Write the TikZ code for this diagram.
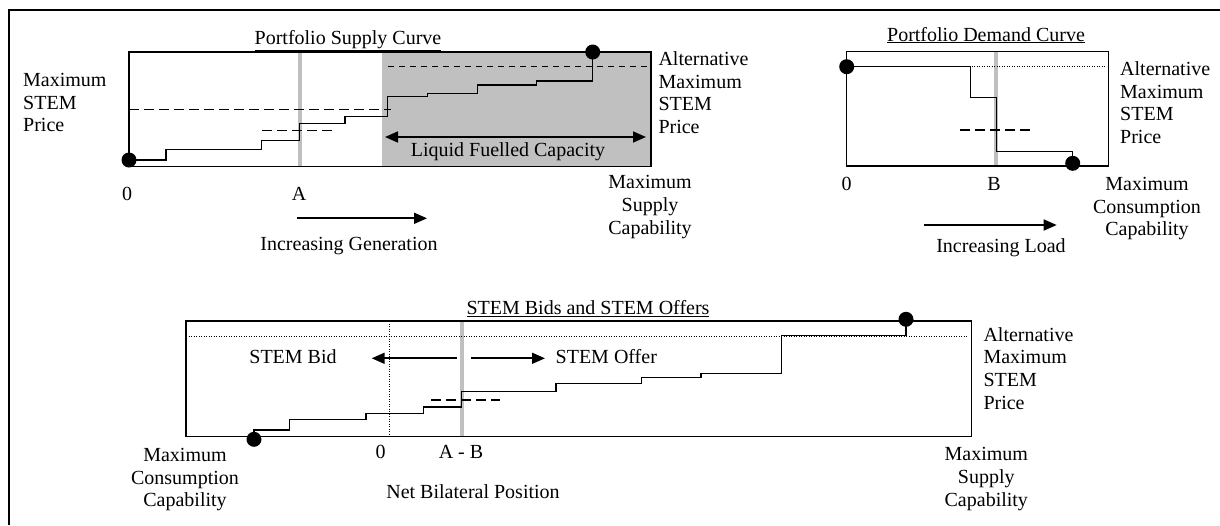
\documentclass[tikz,border=0pt]{standalone}
\usepackage{fontspec}
\setmainfont{Liberation Serif}
\usetikzlibrary{arrows.meta}
\definecolor{gshade}{RGB}{192,192,192}
\begin{document}
\begin{tikzpicture}[x=1pt,y=-1pt,
  lbl/.style={inner sep=0pt,font=\fontsize{20}{22.8}\selectfont},
  frameline/.style={line width=2.2pt},
  box/.style={line width=1.4pt},
  curve/.style={line width=1.5pt},
  dsh/.style={line width=1.4pt,dash pattern=on 10pt off 5pt},
  fdsh/.style={line width=1.2pt,dash pattern=on 6pt off 5pt},
  dotl/.style={line width=0.9pt,dash pattern=on 1pt off 1.5pt},
  gline/.style={line width=4pt,draw=gshade},
  arr/.style={line width=1.7pt,-{Triangle[length=13pt,width=11pt]}},
  darr/.style={line width=1.7pt,{Triangle[length=13pt,width=11pt]}-{Triangle[length=13pt,width=11pt]}},
  bigdot/.style={circle,fill=black,inner sep=0pt,minimum size=15pt},
]
\useasboundingbox (0,0) rectangle (1220,525);
\fill[white] (0,0) rectangle (1220,525);
% outer frame
\draw[frameline] (9,525) -- (9,10) -- (1220,10);

% ================= Supply curve =================
\fill[gshade] (381.7,52) rectangle (651,166.7);
\draw[gline] (300,52) -- (300,166.7);
\draw[box] (129,52) rectangle (651,166.7);
\draw[dsh] (129,109.3) -- (390.7,109.3);
\draw[dsh] (262,130.5) -- (332,130.5);
\draw[fdsh] (388,66.7) -- (649,66.7);
\node[bigdot] (s0) at (129,160) {};
\node[bigdot] (s1) at (592.7,52) {};
\draw[curve] (s0.center) -| (166,149.3) -| (261.7,140.5) -| (299.5,123.3) -| (345,116.7)
  -| (387.3,96.7) -| (427.3,93.3) -| (477.3,85) -| (536.7,81) -| (s1.center);
\coordinate (lfL) at (385,137);
\coordinate (lfR) at (646,137);
\draw[darr] (lfL) -- (lfR);
\node[lbl,anchor=base] (stitle) at (348,44) {\underline{Portfolio Supply Curve}};
\node[lbl,anchor=north west,align=left] (smax) at (23,72.8) {Maximum\\STEM\\Price};
\node[lbl,anchor=north west,align=left] (salt) at (658.3,51.3) {Alternative\\Maximum\\STEM\\Price};
\node[lbl,anchor=base] (szero) at (127,200) {0};
\node[lbl,anchor=base] (sA) at (299,200) {A};
\node[lbl,anchor=base] (slfc) at (508,156) {Liquid Fuelled Capacity};
\node[lbl,anchor=north,align=center] (smsc) at (650,175.1) {Maximum\\Supply\\Capability};
\coordinate (gA) at (297,218.3);
\coordinate (gB) at (427,218.3);
\draw[arr] (gA) -- (gB);
\node[lbl,anchor=base] (sinc) at (349,250) {Increasing Generation};

% ================= Demand curve =================
\draw[gline] (996,51.7) -- (996,166);
\draw[box] (846.7,51.7) rectangle (1108.3,166);
\draw[dotl] (846.7,66.7) -- (1106,66.7);
\draw[dsh] (960,130) -- (1030.7,130);
\node[bigdot] (d0) at (846.7,66.7) {};
\node[bigdot] (d1) at (1072.7,163.3) {};
\draw[curve] (d0.center) -| (970.7,97.3) -| (996.7,151.7) -| (d1.center);
\node[lbl,anchor=base] (dtitle) at (986,41) {\underline{Portfolio Demand Curve}};
\node[lbl,anchor=north west,align=left] (dalt) at (1120,61.3) {Alternative\\Maximum\\STEM\\Price};
\node[lbl,anchor=base] (dzero) at (846.7,190) {0};
\node[lbl,anchor=base] (dB) at (994,190) {B};
\node[lbl,anchor=north,align=center] (dmcc) at (1147,176.8) {Maximum\\Consumption\\Capability};
\coordinate (lA) at (924,225);
\coordinate (lB) at (1056.7,225);
\draw[arr] (lA) -- (lB);
\node[lbl,anchor=base] (dinc) at (1001,252.7) {Increasing Load};

% ================= STEM bids and offers =================
\draw[gline] (461.7,321) -- (461.7,436.7);
\draw[box] (186,321) rectangle (971.7,436.7);
\draw[dotl] (186,336.3) -- (968,336.3);
\draw[dotl] (389.5,321) -- (389.5,436.7);
\draw[dsh] (431,400) -- (500,400);
\node[bigdot] (b0) at (254,439.3) {};
\node[bigdot] (b1) at (906,319.3) {};
\draw[curve] (b0.center) -- (254,430) -| (289.3,419.3) -| (366,413.3) -| (423.3,407) -| (461.7,391.3)
  -| (556,383.3) -| (641.7,377.3) -| (701,373.3) -| (781.7,335.3) -| (b1.center);
\coordinate (bidS) at (456.7,358.3);
\coordinate (bidE) at (371.7,358.3);
\coordinate (offS) at (470.7,358.3);
\coordinate (offE) at (545,358.3);
\draw[arr] (bidS) -- (bidE);
\draw[arr] (offS) -- (offE);
\node[lbl,anchor=base] (btitle) at (588,314.3) {\underline{STEM Bids and STEM Offers}};
\node[lbl,anchor=base] (bbid) at (293,363.3) {STEM Bid};
\node[lbl,anchor=base] (boff) at (606.3,363.3) {STEM Offer};
\node[lbl,anchor=base] (bzero) at (380.7,458.3) {0};
\node[lbl,anchor=base] (bAB) at (461,458.3) {A - B};
\node[lbl,anchor=north,align=center] (bmcc) at (185,447.8) {Maximum\\Consumption\\Capability};
\node[lbl,anchor=base] (bnet) at (473,498.3) {Net Bilateral Position};
\node[lbl,anchor=north west,align=left] (balt) at (983.3,327) {Alternative\\Maximum\\STEM\\Price};
\node[lbl,anchor=north,align=center] (bmsc) at (986.3,447.5) {Maximum\\Supply\\Capability};
\end{tikzpicture}
\end{document}
